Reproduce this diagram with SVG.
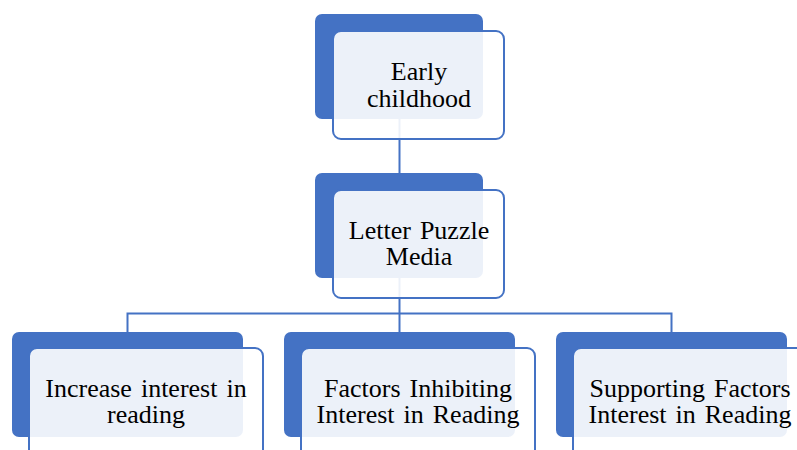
<svg xmlns="http://www.w3.org/2000/svg" width="797" height="450" viewBox="0 0 797 450">
<style>
.back{fill:#4472C4;}
.front{fill:#FFFFFF;fill-opacity:0.9;stroke:#4472C4;stroke-width:2;}
.conn{fill:none;stroke:#4472C4;stroke-width:2;}
text{font-family:"Liberation Serif","Times New Roman",serif;font-size:26px;word-spacing:2.5px;fill:#000;text-anchor:middle;}
</style>
<rect width="797" height="450" fill="#FFFFFF"/>
<g id="connectors">
<path class="conn" d="M399.5,119 V173"/>
<path class="conn" d="M399.5,278 V313.5"/>
<path class="conn" d="M127.5,332 V313.5 H671.5 V332"/>
<path class="conn" d="M399.5,313.5 V332"/>
</g>
<g id="node-early">
<rect class="back" x="315" y="14" width="168" height="105" rx="7"/>
<rect class="front" x="333" y="31" width="171" height="108" rx="8"/>
<text x="419" y="80">Early</text>
<text x="419" y="107">childhood</text>
</g>
<g id="node-letter">
<rect class="back" x="315" y="173" width="168" height="105" rx="7"/>
<rect class="front" x="333" y="190" width="171" height="108" rx="8"/>
<text x="419" y="239">Letter Puzzle</text>
<text x="419" y="265">Media</text>
</g>
<g id="node-increase">
<rect class="back" x="12" y="332" width="231" height="105" rx="7"/>
<rect class="front" x="29" y="348" width="234" height="112" rx="8"/>
<text x="146" y="397">Increase interest in</text>
<text x="146" y="423">reading</text>
</g>
<g id="node-inhibiting">
<rect class="back" x="284" y="332" width="231" height="105" rx="7"/>
<rect class="front" x="301" y="348" width="234" height="112" rx="8"/>
<text x="418" y="397">Factors Inhibiting</text>
<text x="418" y="423">Interest in Reading</text>
</g>
<g id="node-supporting">
<rect class="back" x="556" y="332" width="231" height="105" rx="7"/>
<rect class="front" x="573" y="348" width="234" height="112" rx="8"/>
<text x="690" y="397">Supporting Factors</text>
<text x="690" y="423">Interest in Reading</text>
</g>
</svg>
